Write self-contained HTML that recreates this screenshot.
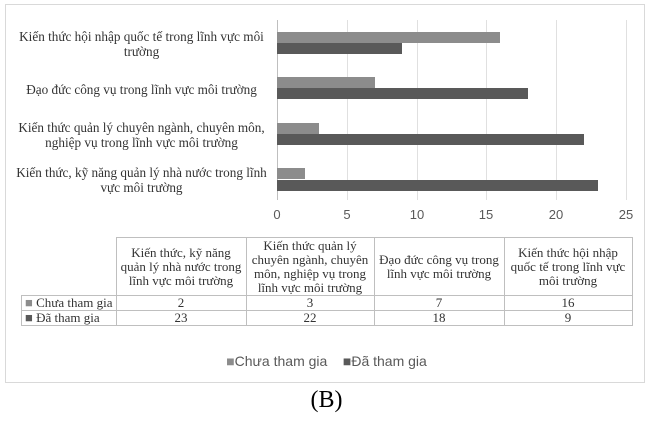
<!DOCTYPE html>
<html><head><meta charset="utf-8"><style>
body{margin:0;background:#fff;width:653px;height:422px;position:relative;overflow:hidden;font-family:"Liberation Serif",serif;color:#333}
.a{position:absolute}
.lab{position:absolute;left:16px;text-align:center;font-size:13.2px;line-height:15px;width:251px;white-space:nowrap}
.g{position:absolute;top:20px;height:180px;width:1px;background:#e0e0e0}
.t{position:absolute;top:207px;font-family:"Liberation Sans",sans-serif;font-size:13px;color:#595959;width:30px;text-align:center}
.b{position:absolute;left:277px;height:11px}
.c{background:#8c8c8c}.d{background:#595959}
table{position:absolute;left:21px;top:237px;border-collapse:collapse;font-size:13px;line-height:14px}
td{border:1px solid #bfbfbf;text-align:center;padding:0;color:#333}
</style></head><body>
<div class="a" style="left:5px;top:4px;width:638px;height:377px;border:1px solid #d9d9d9"></div>
<div class="lab" style="top:29px">Kiến thức hội nhập quốc tế trong lĩnh vực môi<br>trường</div>
<div class="lab" style="top:82px">Đạo đức công vụ trong lĩnh vực môi trường</div>
<div class="lab" style="top:120px">Kiến thức quản lý chuyên ngành, chuyên môn,<br>nghiệp vụ trong lĩnh vực môi trường</div>
<div class="lab" style="top:165px">Kiến thức, kỹ năng quản lý nhà nước trong lĩnh<br>vực môi trường</div>
<div class="g" style="left:277px;background:#bfbfbf"></div>
<div class="g" style="left:347px"></div><div class="g" style="left:417px"></div>
<div class="g" style="left:486px"></div><div class="g" style="left:556px"></div><div class="g" style="left:626px"></div>
<div class="t" style="left:262px">0</div><div class="t" style="left:332px">5</div><div class="t" style="left:402px">10</div>
<div class="t" style="left:471px">15</div><div class="t" style="left:541px">20</div><div class="t" style="left:611px">25</div>
<div class="b c" style="top:32px;width:223px"></div><div class="b d" style="top:43px;width:125px"></div>
<div class="b c" style="top:77px;width:98px"></div><div class="b d" style="top:88px;width:251px"></div>
<div class="b c" style="top:123px;width:42px"></div><div class="b d" style="top:134px;width:307px"></div>
<div class="b c" style="top:168px;width:28px"></div><div class="b d" style="top:180px;width:321px"></div>
<table>
<tr style="height:58px"><td style="border:none;border-bottom:1px solid #bfbfbf;width:94px"></td>
<td style="width:129px">Kiến thức, kỹ năng<br>quản lý nhà nước trong<br>lĩnh vực môi trường</td>
<td style="width:127px">Kiến thức quản lý<br>chuyên ngành, chuyên<br>môn, nghiệp vụ trong<br>lĩnh vực môi trường</td>
<td style="width:129px">Đạo đức công vụ trong<br>lĩnh vực môi trường</td>
<td style="width:127px">Kiến thức hội nhập<br>quốc tế trong lĩnh vực<br>môi trường</td></tr>
<tr style="height:15px"><td style="text-align:left;padding-left:3px;white-space:nowrap"><span style="color:#8c8c8c">■</span> Chưa tham gia</td><td>2</td><td>3</td><td>7</td><td>16</td></tr>
<tr style="height:15px"><td style="text-align:left;padding-left:3px;white-space:nowrap"><span style="color:#595959">■</span> Đã tham gia</td><td>23</td><td>22</td><td>18</td><td>9</td></tr>
</table>
<div class="a" style="left:0;width:653px;top:353px;text-align:center;font-family:'Liberation Sans',sans-serif;font-size:14px;color:#595959"><span style="color:#8c8c8c">■</span>Chưa tham gia &nbsp;&nbsp; <span style="color:#595959">■</span>Đã tham gia</div>
<div class="a" style="left:0;width:653px;top:387px;text-align:center;font-size:24px;color:#000">(B)</div>
</body></html>
